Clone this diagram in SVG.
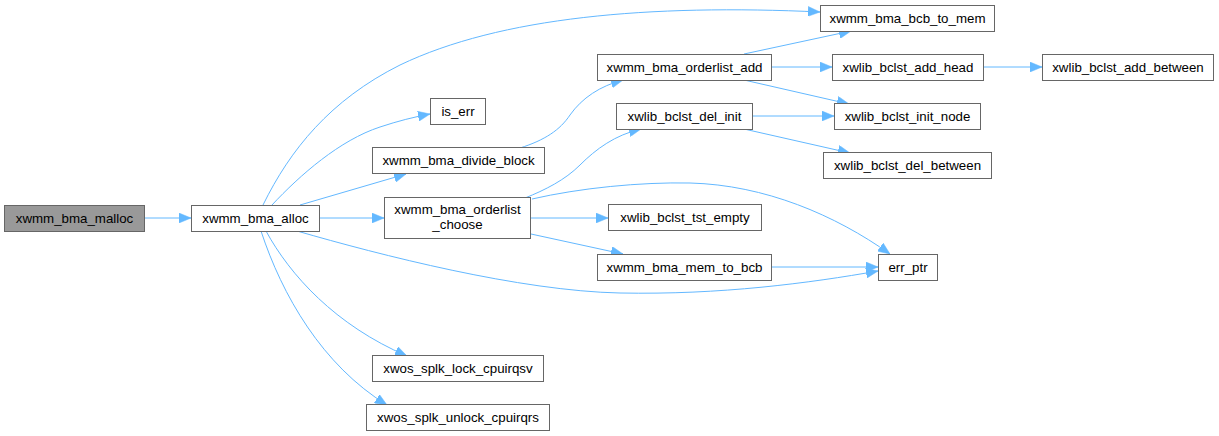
<svg xmlns="http://www.w3.org/2000/svg" width="1219" height="436" viewBox="0 0 1219 436">
<defs>
<style>
.n rect{fill:#ffffff;stroke:#666666;stroke-width:1}
.n.cur rect{fill:#999999}
.n text{font-family:"Liberation Sans",Arial,sans-serif;font-size:13.3px;fill:#000000;text-anchor:middle}
.e path{fill:none;stroke:#63b8ff;stroke-width:1;marker-end:url(#ah)}
</style>
<marker id="ah" viewBox="0 0 12 10" markerWidth="12" markerHeight="10" refX="12" refY="5" orient="auto" markerUnits="userSpaceOnUse">
<path d="M0,0 L12,5 L0,10 z" fill="#63b8ff" stroke="#63b8ff" stroke-width="0.5"/>
</marker>
</defs>
<rect width="1219" height="436" fill="#ffffff"/>
<g class="e" id="edges">
<path d="M144,218 L191,218"/>
<path d="M263,205 C290,150 330,100 400,65 C500,17 650,4 820,12"/>
<path d="M272,205 C300,175 340,140 380,127 C398,121 414,117 430,114"/>
<path d="M300,205 L406,174"/>
<path d="M319,218 L384,218"/>
<path d="M297,231 C380,255 520,291 620,293 C720,295 810,283 878,271"/>
<path d="M266,231 C290,275 335,325 407,356"/>
<path d="M261,231 C282,295 322,365 387,405"/>
<path d="M520,148 C545,140 560,130 570,115 C582,98 600,86 623,80"/>
<path d="M525,198 C545,190 565,180 580,165 C596,149 615,135 641,129"/>
<path d="M532,199 C580,188 640,182 690,183 C765,185 835,215 890,254"/>
<path d="M530,218 L608,218"/>
<path d="M531,234 L623,254"/>
<path d="M744,54 L851,31"/>
<path d="M772,67 L832,67"/>
<path d="M744,80 L849,104"/>
<path d="M983,67 L1042,67"/>
<path d="M752,116 L834,116"/>
<path d="M744,129 L850,153"/>
<path d="M772,267 L878,267"/>
</g>
<g class="n cur" id="node1"><rect x="4.5" y="205.5" width="140" height="26"/><text x="74.5" y="223">xwmm_bma_malloc</text></g>
<g class="n" id="node2"><rect x="191.5" y="205.5" width="128" height="26"/><text x="255.5" y="223">xwmm_bma_alloc</text></g>
<g class="n" id="node3"><rect x="820.5" y="5.5" width="174" height="26"/><text x="907.5" y="23">xwmm_bma_bcb_to_mem</text></g>
<g class="n" id="node4"><rect x="430.5" y="98.5" width="55" height="26"/><text x="458" y="116">is_err</text></g>
<g class="n" id="node5"><rect x="372.5" y="147.5" width="172" height="26"/><text x="458.5" y="165">xwmm_bma_divide_block</text></g>
<g class="n" id="node6"><rect x="597.5" y="54.5" width="174" height="26"/><text x="684.5" y="72">xwmm_bma_orderlist_add</text></g>
<g class="n" id="node7"><rect x="832.5" y="54.5" width="151" height="26"/><text x="908" y="72">xwlib_bclst_add_head</text></g>
<g class="n" id="node8"><rect x="1042.5" y="54.5" width="171" height="26"/><text x="1128" y="72">xwlib_bclst_add_between</text></g>
<g class="n" id="node9"><rect x="834.5" y="103.5" width="146" height="26"/><text x="907.5" y="121">xwlib_bclst_init_node</text></g>
<g class="n" id="node10"><rect x="384.5" y="197.5" width="146" height="41"/><text x="457.5" y="214">xwmm_bma_orderlist</text><text x="457.5" y="229">_choose</text></g>
<g class="n" id="node11"><rect x="878.5" y="254.5" width="59" height="26"/><text x="908" y="272">err_ptr</text></g>
<g class="n" id="node12"><rect x="616.5" y="103.5" width="136" height="26"/><text x="684.5" y="121">xwlib_bclst_del_init</text></g>
<g class="n" id="node13"><rect x="823.5" y="152.5" width="168" height="26"/><text x="907.5" y="170">xwlib_bclst_del_between</text></g>
<g class="n" id="node14"><rect x="608.5" y="204.5" width="153" height="26"/><text x="685" y="222">xwlib_bclst_tst_empty</text></g>
<g class="n" id="node15"><rect x="597.5" y="254.5" width="174" height="26"/><text x="684.5" y="272">xwmm_bma_mem_to_bcb</text></g>
<g class="n" id="node16"><rect x="372.5" y="355.5" width="171" height="26"/><text x="458" y="373">xwos_splk_lock_cpuirqsv</text></g>
<g class="n" id="node17"><rect x="366.5" y="404.5" width="183" height="26"/><text x="458" y="422">xwos_splk_unlock_cpuirqrs</text></g>
</svg>
